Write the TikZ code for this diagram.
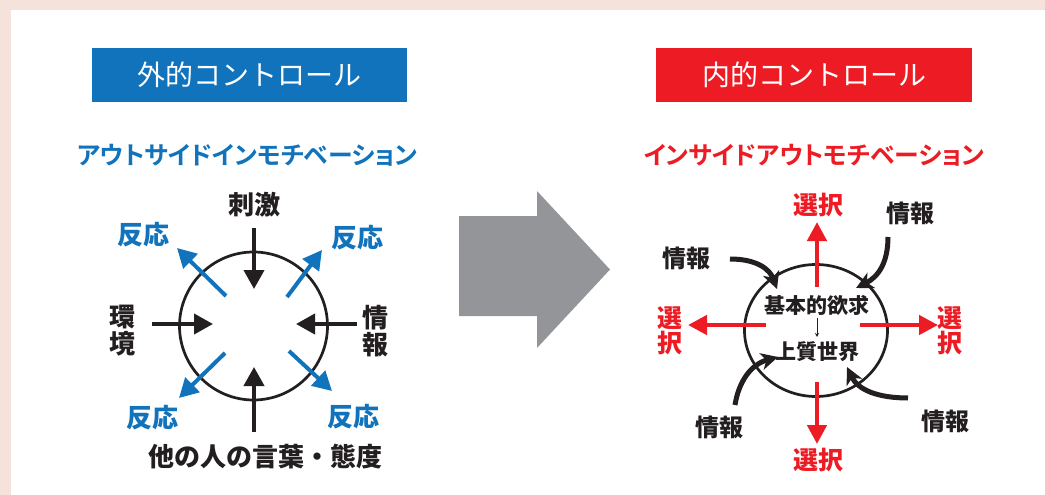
\documentclass[tikz,border=0pt]{standalone}
\usepackage{fontspec}
\usetikzlibrary{arrows.meta,shapes.geometric}
\newfontfamily\jpblack{Noto Sans CJK JP Black}
\newfontfamily\jpbold[RawFeature=+palt]{Noto Sans CJK JP Bold}
\newfontfamily\jpreg{Noto Sans CJK JP}
\definecolor{pinkbg}{RGB}{245,226,219}
\definecolor{myblue}{RGB}{17,115,187}
\definecolor{myred}{RGB}{237,28,36}
\definecolor{mygray}{RGB}{147,149,152}
\definecolor{myblack}{RGB}{35,31,32}
\begin{document}
\begin{tikzpicture}[x=1pt,y=-1pt,
  titlebox/.style={minimum width=315pt,minimum height=54pt,inner sep=0pt,text=white,font=\jpreg\fontsize{28}{28}\selectfont},
  subt/.style={inner sep=0pt,font=\jpbold\fontsize{24.8}{25}\selectfont},
  lbl/.style={inner sep=0pt,align=center,text=myblack,font=\jpblack\fontsize{26}{27}\selectfont},
  lblr/.style={inner sep=0pt,align=center,text=myblack,font=\jpblack\fontsize{24}{25}\selectfont},
  selbl/.style={inner sep=0pt,align=center,text=myred,font=\jpblack\fontsize{25}{25.5}\selectfont},
  inlbl/.style={inner sep=0pt,text=myblack,font=\jpblack\fontsize{21}{21}\selectfont},
  straight/.style={line width=4pt,-{Triangle[length=19pt,width=20pt]}},
  redarr/.style={line width=4.5pt,color=myred,-{Triangle[length=19pt,width=19pt]}},
  curved/.style={line width=5pt,color=myblack,-{Stealth[length=17pt,width=17pt,inset=5pt]}},
  ring/.style={draw=myblack,line width=2.7pt,inner sep=0pt}
]
\useasboundingbox (0,0) rectangle (1045,495);
\fill[pinkbg] (0,0) rectangle (1045,495);
\fill[white] (11,10) rectangle (1045,495);

% titles
\node[titlebox,fill=myblue] (tl) at (249.5,75) {外的コントロール};
\node[titlebox,fill=myred,minimum width=316pt] (tr) at (814,75) {内的コントロール};
\node[subt,text=myblue] (sl) at (247.5,155) {アウトサイドインモチベーション};
\node[subt,text=myred] (sr) at (814,155) {インサイドアウトモチベーション};

% big gray arrow
\fill[mygray] (459,216) -- (537,216) -- (537,191) -- (610,269.5) -- (537,348) -- (537,316) -- (459,316) -- cycle;

% ---------- left diagram ----------
\node[ring,circle,minimum size=148pt] (lc) at (253.5,326) {};
\node[lbl] (stim) at (254,205) {刺激};
\node[lbl] (env) at (122,331) {環\\境};
\node[lbl] (info) at (375,331) {情\\報};
\node[lbl] (others) at (265,457) {他の人の言葉・態度};
\node[lbl,text=myblue] (r1) at (143,235) {反応};
\node[lbl,text=myblue] (r2) at (357,238) {反応};
\node[lbl,text=myblue] (r3) at (152,418) {反応};
\node[lbl,text=myblue] (r4) at (353,417) {反応};

\coordinate (ta) at (254,228); \coordinate (tb) at (254,289);
\coordinate (la) at (152,324); \coordinate (lb) at (213,324);
\coordinate (ra) at (357,324); \coordinate (rb) at (296,324);
\coordinate (ba) at (254,432); \coordinate (bb) at (254,367);
\draw[straight,color=myblack] (ta) -- (tb);
\draw[straight,color=myblack] (la) -- (lb);
\draw[straight,color=myblack] (ra) -- (rb);
\draw[straight,color=myblack] (ba) -- (bb);

\coordinate (b1a) at (226,296); \coordinate (b1b) at (177,248);
\coordinate (b2a) at (287,297); \coordinate (b2b) at (322,250);
\coordinate (b3a) at (225,353); \coordinate (b3b) at (179,398);
\coordinate (b4a) at (289,351); \coordinate (b4b) at (332,391);
\draw[straight,color=myblue] (b1a) -- (b1b);
\draw[straight,color=myblue] (b2a) -- (b2b);
\draw[straight,color=myblue] (b3a) -- (b3b);
\draw[straight,color=myblue] (b4a) -- (b4b);

% ---------- right diagram ----------
\node[ring,ellipse,minimum width=143pt,minimum height=132pt] (rc) at (816,330.5) {};
\node[inlbl] (need) at (817,305) {基本的欲求};
\node[inlbl] (qw) at (817,352) {上質世界};
\draw[myblack,line width=0.8pt,-{Stealth[length=4pt,width=4pt]}] (817,318) -- (817,337);

\node[selbl] (s1) at (818,205) {選択};
\node[selbl] (s2) at (818,460) {選択};
\node[selbl] (s3) at (669.5,331) {選\\択};
\node[selbl] (s4) at (949.5,331) {選\\択};

\coordinate (u0) at (817,287); \coordinate (u1) at (817,222);
\coordinate (d0) at (817,382); \coordinate (d1) at (817,444);
\coordinate (l0) at (766,325); \coordinate (l1) at (688,325);
\coordinate (r0) at (860,325); \coordinate (r1e) at (938,325);
\draw[redarr] (u0) -- (u1);
\draw[redarr] (d0) -- (d1);
\draw[redarr] (l0) -- (l1);
\draw[redarr] (r0) -- (r1e);

\node[lblr] (i1) at (686.5,258) {情報};
\node[lblr] (i2) at (910,213) {情報};
\node[lblr] (i3) at (719.5,427) {情報};
\node[lblr] (i4) at (945.5,421) {情報};

\coordinate (c1a) at (730,259); \coordinate (c1b) at (777,289);
\coordinate (c2a) at (888,237); \coordinate (c2b) at (856,288);
\coordinate (c3a) at (735,405); \coordinate (c3b) at (778,357);
\coordinate (c4a) at (908,398); \coordinate (c4b) at (847,367);
\draw[curved] (c1a) .. controls (758,259) and (770,270) .. (c1b);
\draw[curved] (c2a) .. controls (888,263) and (878,277) .. (c2b);
\draw[curved] (c3a) .. controls (739,380) and (752,364) .. (c3b);
\draw[curved] (c4a) .. controls (878,398) and (858,390) .. (c4b);
\end{tikzpicture}
\end{document}
